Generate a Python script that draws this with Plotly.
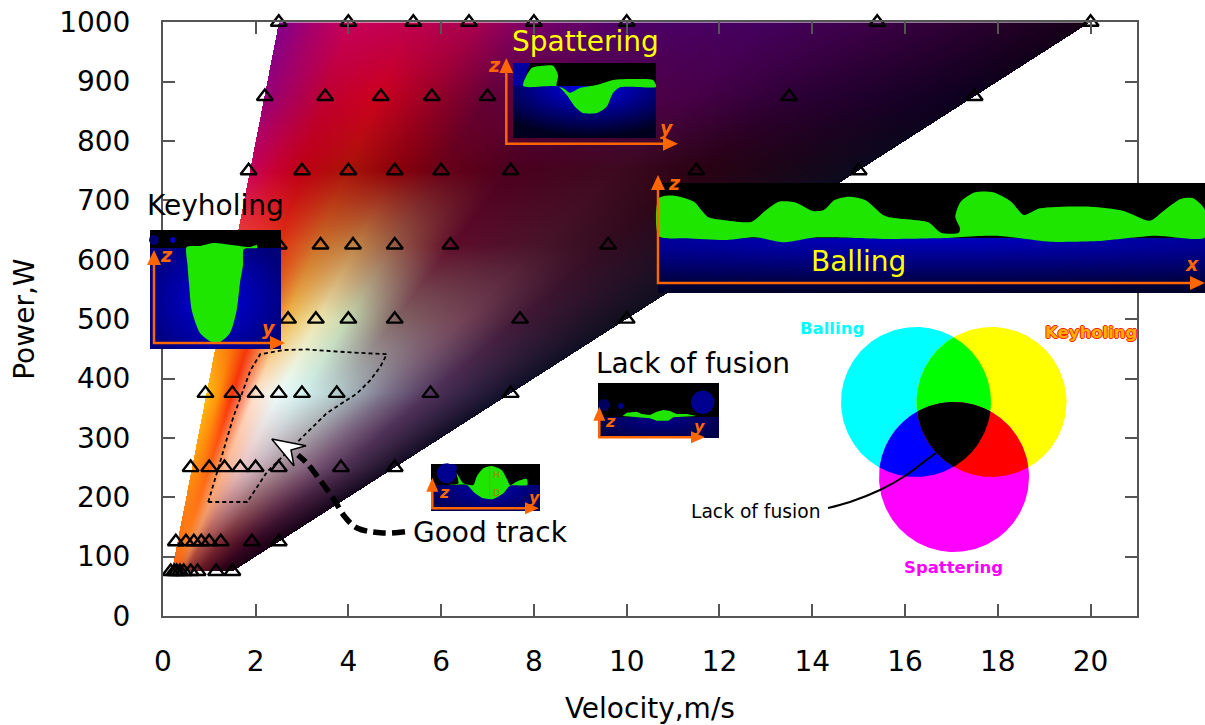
import base64, struct, zlib
import numpy as np
import plotly.graph_objects as go

# ---- data -----------------------------------------------------------------
power_levels = [75, 125, 250, 375, 500, 625, 750, 875, 1000]
v_75 = [0.17, 0.25, 0.3, 0.37, 0.45, 0.6, 0.75, 1.15, 1.5]
v_125 = [0.28, 0.5, 0.67, 0.83, 1.0, 1.25, 1.92, 2.5]
v_250 = [0.6, 1.0, 1.33, 1.67, 2.0, 2.5, 3.84, 5.0]
v_375 = [0.92, 1.5, 2.0, 2.5, 3.0, 3.75, 5.77, 7.5]
v_500 = [2.2, 2.7, 3.3, 4.0, 5.0, 7.7, 10.0]
v_625 = [2.5, 3.4, 4.1, 5.0, 6.2, 9.6]
v_750 = [1.85, 3.0, 4.0, 5.0, 6.0, 7.5, 11.5, 15.0]
v_875 = [2.2, 3.5, 4.7, 5.8, 7.0, 13.5, 17.5]
v_1000 = [2.5, 4.0, 5.4, 6.6, 8.0, 10.0, 15.4, 20.0]
velocities = [v_75, v_125, v_250, v_375, v_500, v_625, v_750, v_875, v_1000]

region_v = [0.98, 1.82, 2.25, 2.89, 3.54, 4.19, 4.47, 4.69, 4.83, 4.04, 3.11, 2.6, 2.1, 1.89, 1.52, 0.98]
region_p = [192, 192, 243, 293, 342, 375, 397, 420, 441, 444, 449, 448, 441, 414, 335, 192]

x_ticks = list(range(0, 21, 2))
y_ticks = list(range(0, 1001, 100))

# colour field: columns are v/P*1000, rows are power_levels
ratio_cols = [2.5, 3.2, 4.0, 5.3, 6.7, 8.0, 10.0, 13.0, 15.4, 20.0]
rgb_75 = [(250,100,20),(248,95,20),(240,90,20),(205,90,50),(155,55,45),(135,45,45),(105,25,35),(75,12,30),(50,3,25),(25,0,20)]
rgb_125 = [(250,110,20),(255,120,25),(255,130,30),(235,140,85),(180,85,70),(155,70,70),(120,40,50),(80,18,40),(55,8,35),(22,2,22)]
rgb_250 = [(255,150,10),(255,130,15),(255,100,20),(255,180,140),(235,195,195),(205,180,190),(165,140,150),(120,85,115),(80,50,85),(20,12,35)]
rgb_375 = [(255,190,20),(255,150,10),(250,50,10),(255,225,205),(235,252,252),(210,240,238),(180,205,205),(120,110,135),(80,50,90),(15,15,40)]
rgb_500 = [(250,130,20),(250,100,15),(240,60,10),(240,185,75),(238,230,175),(195,215,175),(130,100,100),(115,65,85),(65,25,55),(15,15,30)]
rgb_625 = [(240,70,50),(235,60,40),(225,50,20),(205,110,40),(190,130,70),(150,90,70),(95,12,42),(72,20,42),(50,12,32),(15,15,35)]
rgb_750 = [(200,0,90),(200,0,50),(190,0,20),(170,20,10),(140,0,10),(105,0,22),(75,0,30),(62,10,32),(42,2,18),(12,10,30)]
rgb_875 = [(150,0,120),(170,0,90),(190,0,50),(205,0,30),(150,0,40),(100,0,55),(88,0,68),(72,0,72),(45,0,55),(12,0,30)]
rgb_1000 = [(130,0,140),(165,0,110),(200,0,90),(190,0,80),(170,0,80),(120,0,105),(78,0,105),(68,0,95),(60,0,70),(22,0,22)]
field_rows = [rgb_75, rgb_125, rgb_250, rgb_375, rgb_500, rgb_625, rgb_750, rgb_875, rgb_1000]

# ---- figure geometry ------------------------------------------------------
W, H = 1205, 725
L, R, T, B = 162.8, 1137.0, 22.3, 616.0
ORANGE = "#ff6600"
GREEN = "#1ee600"
FONT = "DejaVu Sans"


def png_uri(arr):
    h, w = arr.shape[:2]
    raw = b"".join(b"\x00" + arr[i].tobytes() for i in range(h))

    def chunk(tag, body):
        return struct.pack(">I", len(body)) + tag + body + struct.pack(">I", zlib.crc32(tag + body))
    data = (b"\x89PNG\r\n\x1a\n" + chunk(b"IHDR", struct.pack(">IIBBBBB", w, h, 8, 6, 0, 0, 0))
            + chunk(b"IDAT", zlib.compress(raw, 9)) + chunk(b"IEND", b""))
    return "data:image/png;base64," + base64.b64encode(data).decode()


def field_image():
    nx, ny = int(round(R - L)), int(round(B - T))
    dv, dp = 21.0 / nx, 1000.0 / ny
    vv, pp = np.meshgrid((np.arange(nx) + .5) * dv, 1000 - (np.arange(ny) + .5) * dp)
    q = 1000 * vv / pp
    table = np.array(field_rows, float)
    rows = np.array(power_levels, float)
    cols = np.array(ratio_cols, float)
    i = np.clip(np.searchsorted(rows, pp) - 1, 0, len(rows) - 2)
    j = np.clip(np.searchsorted(cols, q) - 1, 0, len(cols) - 2)
    fi = np.clip((pp - rows[i]) / (rows[i + 1] - rows[i]), 0, 1)[..., None]
    fj = np.clip((q - cols[j]) / (cols[j + 1] - cols[j]), 0, 1)[..., None]
    col = (table[i, j] * (1 - fi) * (1 - fj) + table[i + 1, j] * fi * (1 - fj)
           + table[i, j + 1] * (1 - fi) * fj + table[i + 1, j + 1] * fi * fj)
    mask = (q >= 2.5) & (q <= 20) & (pp >= 75)
    out = np.zeros((ny, nx, 4), np.uint8)
    out[..., :3] = np.clip(col, 0, 255).astype(np.uint8)
    out[..., 3] = mask * 255
    return out[::-1], dv, dp


fig = go.Figure()
img, dv, dp = field_image()
fig.add_trace(go.Image(source=png_uri(img), x0=dv / 2, dx=dv, y0=dp / 2, dy=dp, hoverinfo="skip"))

tv, tp = [], []
for p, vs in zip(power_levels, velocities):
    tv += vs
    tp += [p] * len(vs)
fig.add_trace(go.Scatter(x=tv, y=tp, mode="markers", cliponaxis=False, hoverinfo="skip", showlegend=False,
                         marker=dict(symbol="triangle-up-open", size=14, color="black", line=dict(width=2.4, color="black"))))
fig.add_trace(go.Scatter(x=region_v, y=region_p, mode="lines", hoverinfo="skip", showlegend=False,
                         line=dict(color="black", width=1.8, dash="4px,3px")))


# ---- overlay in page pixels -----------------------------------------------
def poly(pts, color, smooth=False):
    xs, ys = zip(*pts)
    fig.add_trace(go.Scatter(x=list(xs) + [xs[0]], y=list(ys) + [ys[0]], xaxis="x2", yaxis="y2", mode="lines",
                             fill="toself", fillcolor=color,
                             line=dict(width=0, color=color, shape="spline" if smooth else "linear", smoothing=0.7),
                             hoverinfo="skip", showlegend=False))


def line(pts, color, width, dash=None, shape="linear"):
    xs, ys = zip(*pts)
    fig.add_trace(go.Scatter(x=xs, y=ys, xaxis="x2", yaxis="y2", mode="lines", hoverinfo="skip", showlegend=False,
                             line=dict(color=color, width=width, dash=dash, shape=shape)))


def circle(cx, cy, r, n=90):
    a = np.linspace(0, 2 * np.pi, n, endpoint=False)
    return list(zip(cx + r * np.cos(a), cy + r * np.sin(a)))


def panel(x0, x1, y0, y1, surf, bmax, bmin, cx, cy, rx, ry):
    nx, ny = int(round(x1 - x0)), int(round(y1 - y0))
    xx, yy = np.meshgrid(x0 + np.arange(nx) + .5, y0 + np.arange(ny) + .5)
    d = np.clip(np.sqrt(((xx - cx) / rx) ** 2 + ((yy - cy) / ry) ** 2), 0, 1)
    arr = np.zeros((ny, nx, 4), np.uint8)
    arr[..., 2] = ((bmax - (bmax - bmin) * d) * (yy >= surf)).astype(np.uint8)
    arr[..., 3] = 255
    fig.add_trace(go.Image(source=png_uri(arr), x0=x0 + .5, dx=1, y0=y0 + .5, dy=1, xaxis="x2", yaxis="y2", hoverinfo="skip"))


def axes_arrows(x, y, ytip, xtip, hl=15, hw=7):
    line([(x, ytip + hl - 1), (x, y), (xtip - hl + 1, y)], ORANGE, 2.5)
    poly([(x, ytip), (x - hw, ytip + hl), (x + hw, ytip + hl)], ORANGE)
    poly([(xtip, y), (xtip - hl, y - hw), (xtip - hl, y + hw)], ORANGE)


notes = []


def note(x, y, text, size=28, color="black", **kw):
    notes.append(dict(x=x, y=y, xref="x2", yref="y2", text=text, showarrow=False, xanchor="center", yanchor="middle",
                      font=dict(family=FONT, size=size, color=color, **kw)))


def ital(x, y, t, size=19):
    note(x, y, f"<b><i>{t}</i></b>", size=size, color=ORANGE)


# Keyholing inset
panel(150, 281, 230, 349, 248, 225, 120, 215, 300, 75, 70)
poly([(186.7, 247), (200, 246), (213, 243), (232, 245), (250, 247), (257, 245), (257, 248), (244, 249), (243, 265), (240, 283),
      (236.7, 310), (230, 333), (220, 342), (211.7, 342), (200, 333), (191.7, 310), (189, 283), (187.5, 265)], GREEN, smooth=True)
poly(circle(154, 240, 5), "#000070")
poly(circle(173, 240, 3), "#0000c8")
axes_arrows(154, 343, 250, 285)
ital(166, 255, "z")
ital(269, 328, "y")

# Spattering inset
panel(513, 656, 63, 138, 86, 245, 30, 590, 85, 115, 52)
poly([(513, 63), (530, 63), (523, 86), (513, 86)], "#0000a0")
poly([(523.3, 86), (531.7, 68), (543, 65.7), (553, 65.7), (558, 75), (556.7, 86), (563, 88), (570, 92.7), (580, 88),
      (596.7, 85), (613, 80), (633, 79), (653, 80), (656, 85), (656, 87), (620, 87.3), (613, 93), (606.7, 106.7),
      (596.7, 113), (583, 113), (575, 106.7), (566.7, 95), (558, 86.7)], GREEN, smooth=True)
axes_arrows(506.3, 143.7, 58, 678)
ital(494, 65, "z")
ital(667, 128, "y")

# Balling inset
panel(658, 1205, 183, 293, 238, 195, 40, 930, 238, 1000, 55)
ball_top_x = [52, 95, 150, 170, 190, 230, 310, 350, 385, 430, 480, 510, 540, 580, 625, 680, 800, 835, 885, 888, 875, 890,
              930, 980, 1030, 1065, 1110, 1250, 1340, 1415, 1450, 1500, 1535, 1568]
ball_top_y = [115, 107, 125, 150, 172, 180, 185, 150, 125, 127, 153, 150, 120, 110, 120, 168, 187, 218, 218, 205, 170, 125,
              97, 97, 125, 165, 145, 140, 152, 182, 155, 117, 115, 150]
ball_low_x = [1568, 1430, 1270, 1140, 985, 820, 700, 490, 400, 320, 240, 130, 52]
ball_low_y = [232, 227, 243, 245, 227, 235, 237, 232, 247, 232, 240, 235, 228]
poly([(640 + a / 2.775, 160 + b / 3) for a, b in zip(ball_top_x + ball_low_x, ball_top_y + ball_low_y)], GREEN, smooth=True)
axes_arrows(658, 283, 175, 1205)
ital(674, 183, "z")
ital(1192, 264, "x")

# Good track inset
panel(431, 540, 464, 511, 485, 180, 80, 490, 487, 70, 30)
poly(circle(446.7, 473.3, 10), "#000090")
poly(circle(453, 468, 4), "#000090")
poly([(420 + a / 3, 340 + b / 3) for a, b in
      [(90, 435), (115, 430), (110, 400), (130, 430), (160, 435), (170, 410), (190, 385), (215, 378), (245, 390), (262, 420),
       (270, 435), (290, 425), (320, 417), (322, 435), (270, 437), (250, 460), (220, 477), (190, 475), (165, 460), (140, 435)]], GREEN, smooth=True)
line([(489.7, 467), (489.7, 498)], "#8a9a00", 1)
note(496, 474.5, "H", size=9, color="#a08000")
note(496, 492.5, "D", size=9, color="#a08000")
axes_arrows(432.3, 508.3, 477.7, 539, hl=14, hw=6)
ital(444, 492, "z", 16)
ital(534, 497, "y", 16)

# Lack of fusion inset
panel(598, 719, 383, 438, 416.7, 140, 70, 660, 418, 80, 25)
poly(circle(702.7, 402.3, 11.7), "#000090")
poly(circle(604, 405, 6), "#000060")
poly(circle(621, 406, 3), "#000090")
poly([(420 + a / 3, 340 + b / 3) for a, b in
      [(608, 228), (620, 218), (650, 215), (665, 222), (690, 225), (710, 215), (730, 210), (750, 213), (770, 222), (800, 222),
       (830, 228), (800, 230), (760, 232), (745, 242), (710, 242), (690, 235), (650, 232), (608, 230)]], GREEN)
axes_arrows(599.3, 437.3, 406.7, 705, hl=14, hw=6)
ital(610, 421, "z", 16)
ital(699, 426, "y", 16)

# Venn diagram
circs = {"c": (916, 402), "y": (991.5, 402), "m": (954, 477)}
VR = 75


def inside(pts, names):
    return [p for p in pts if all((p[0] - circs[n][0]) ** 2 + (p[1] - circs[n][1]) ** 2 <= VR ** 2 + .01 for n in names)]


def overlap(names, color):
    pts = []
    for n in names:
        pts += inside(circle(*circs[n], VR, 720), [k for k in names if k != n])
    c = np.mean(pts, axis=0)
    pts.sort(key=lambda p: np.arctan2(p[1] - c[1], p[0] - c[0]))
    poly(pts, color)


poly(circle(*circs["c"], VR, 240), "#00ffff")
poly(circle(*circs["y"], VR, 240), "#ffff00")
poly(circle(*circs["m"], VR, 240), "#ff00ff")
overlap("cy", "#00ff00")
overlap("cm", "#0000ff")
overlap("ym", "#ff0000")
overlap("cym", "#000000")
line([(828, 508), (850, 502), (880, 490), (905, 476), (925, 461), (936, 453)], "black", 2, shape="spline")
note(755, 511, "Lack of fusion", size=18.7)
note(832, 328, "<b>Balling</b>", size=16.5, color="#00ffff")
note(1091, 332, "<b>Keyholing</b>", size=16.5, color="#ffb000", shadow="1px 0 0 #ff2000, -1px 0 0 #ff2000, 0 1px 0 #ff2000, 0 -1px 0 #ff2000")
note(953, 567, "<b>Spattering</b>", size=16.5, color="#ff00ff")

# Good-track pointer
line([(405, 531.7), (383, 533), (357, 528), (345, 517), (333, 498), (320, 480), (306.7, 463), (298, 455)], "black", 5.5, "13px,6px", "spline")
arrow_tip = [(271.7, 439), (306, 445.7), (291, 450), (294, 466)]
poly(arrow_tip, "white")
line(arrow_tip + [arrow_tip[0]], "black", 1.5)

# headings
note(215, 205, "Keyholing")
note(585, 41, "Spattering", color="#ffff00")
note(858, 261, "Balling", color="#ffff00")
note(693, 363, "Lack of fusion")
note(490, 532, "Good track")

frame = dict(showline=True, linecolor="#555555", linewidth=1.5, mirror="ticks", ticks="inside", ticklen=12, tickwidth=1.5,
             tickcolor="#555555", showgrid=False, zeroline=False, automargin=False, tickfont=dict(family=FONT, size=28, color="black"))
fig.update_layout(
    width=W, height=H, margin=dict(l=0, r=0, t=0, b=0, autoexpand=False), paper_bgcolor="white", plot_bgcolor="rgba(0,0,0,0)",
    showlegend=False, annotations=notes, font=dict(family=FONT),
    xaxis=dict(domain=[L / W, R / W], range=[0, 21], tickvals=x_ticks, ticklabelstandoff=20,
               title=dict(text="Velocity,m/s", font=dict(family=FONT, size=28, color="black"), standoff=26), anchor="y", **frame),
    yaxis=dict(domain=[(H - B) / H, (H - T) / H], range=[0, 1000], tickvals=y_ticks, ticklabelstandoff=25, scaleanchor=False,
               title=dict(text="Power,W", font=dict(family=FONT, size=28, color="black"), standoff=16), anchor="x", **frame),
    xaxis2=dict(domain=[0, 1], range=[0, W], visible=False, anchor="y2"),
    yaxis2=dict(domain=[0, 1], range=[H, 0], visible=False, anchor="x2", scaleanchor=False),
)
fig.write_html("out.html", config=dict(displayModeBar=False), post_script="document.body.style.margin='0';")
